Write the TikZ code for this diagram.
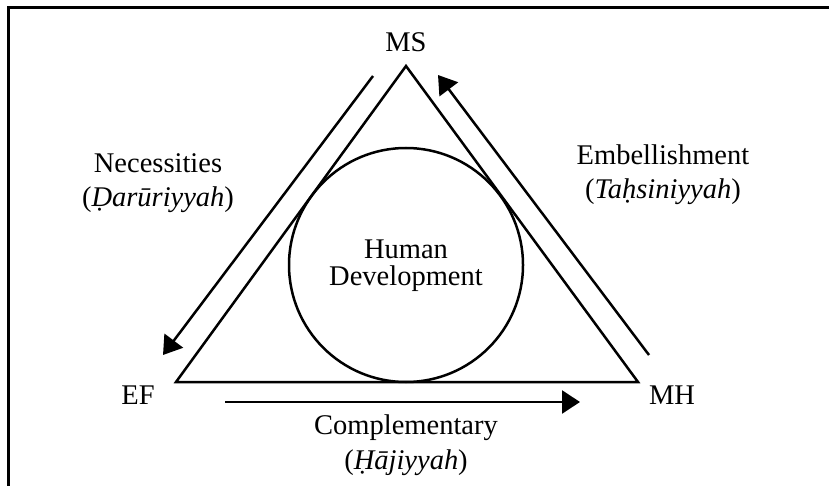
\documentclass[tikz,border=0pt]{standalone}
\usepackage{fontspec}
\setmainfont{Liberation Serif}
\usetikzlibrary{arrows.meta}
\begin{document}
\begin{tikzpicture}[x=1pt,y=-1pt,font=\fontsize{28.5}{34}\selectfont,
  side/.style={line width=2.5pt},
  flow/.style={line width=2.5pt,-{Triangle[length=18pt,width=23pt]}},
  txt/.style={inner sep=0pt,align=center}]
\useasboundingbox (0,0) rectangle (829,486);
\draw[line width=3pt] (8,486) -- (8,8) -- (829,8);

\begin{scope}
\coordinate (top) at (406,66);
\coordinate (bl) at (176,382);
\coordinate (br) at (638,382);
\draw[side, line join=miter] (top) -- (bl) -- (br) -- cycle;
\draw[side] (406,265) coordinate (hd) circle[radius=117pt];
\end{scope}

\begin{scope}
\coordinate (nec-a) at (373,76);
\coordinate (nec-b) at (163,355);
\draw[flow] (nec-a) -- (nec-b);
\coordinate (emb-a) at (649,355);
\coordinate (emb-b) at (438,75);
\draw[flow] (emb-a) -- (emb-b);
\coordinate (com-a) at (225,402);
\coordinate (com-b) at (580,402);
\draw[flow] (com-a) -- (com-b);
\end{scope}

\node[txt] (ms) at (406,42.5) {MS};
\node[txt] (ef) at (138,395.5) {EF};
\node[txt] (mh) at (672,395.5) {MH};
\node[txt] (human) at (406,266) {Human\\[-7pt]Development};
\node[txt] (nec) at (158,183.3) {Necessities\\(\textit{Ḍarūriyyah})};
\node[txt] (emb) at (663,175) {Embellishment\\(\textit{Taḥsiniyyah})};
\node[txt] (com) at (406,444.8) {Complementary\\[1pt](\textit{Ḥājiyyah})};

\end{tikzpicture}
\end{document}
